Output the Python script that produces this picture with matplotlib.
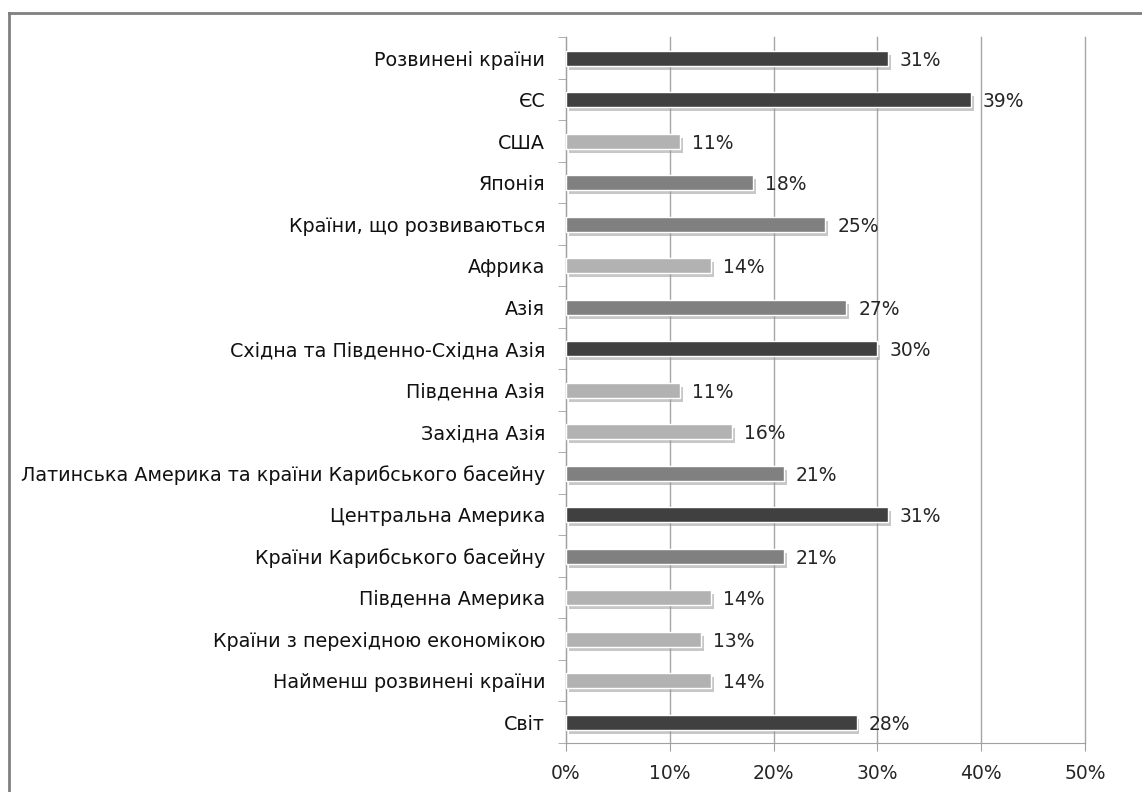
import matplotlib.pyplot as plt
import matplotlib.patheffects as pe
from matplotlib.lines import Line2D
from matplotlib.ticker import PercentFormatter

regions = ["Розвинені країни", "ЄС", "США", "Японія", "Країни, що розвиваються",
           "Африка", "Азія", "Східна та Південно-Східна Азія", "Південна Азія",
           "Західна Азія", "Латинська Америка та країни Карибського басейну",
           "Центральна Америка", "Країни Карибського басейну", "Південна Америка",
           "Країни з перехідною економікою", "Найменш розвинені країни", "Світ"]
shares = [31, 39, 11, 18, 25, 14, 27, 30, 11, 16, 21, 31, 21, 14, 13, 14, 28]


def shade(v):
    # three grey tones, darker for bigger shares
    if v >= 28:
        return "#404040"
    if v >= 18:
        return "#808080"
    return "#b2b2b2"


fig = plt.figure(figsize=(11.42, 7.92), dpi=100)
ax = fig.add_axes([0.4956, 0.0619, 0.4545, 0.891])

ypos = list(range(len(regions)))[::-1]
bars = ax.barh(ypos, shares, height=0.36, color=[shade(v) for v in shares],
               edgecolor="white", linewidth=1, zorder=3)
for b in bars:
    b.set_path_effects([pe.SimplePatchShadow(offset=(2, -3), shadow_rgbFace="#999999", alpha=0.55),
                        pe.Normal()])

for y, v in zip(ypos, shares):
    ax.text(v + 1.15, y - 0.05, f"{v}%", va="center", ha="left", fontsize=13.5,
            color="#262626", zorder=4)

ax.set_xlim(0, 50)
ax.set_ylim(-0.5, len(regions) - 0.5)
ax.set_xticks(range(0, 51, 10))
ax.xaxis.set_major_formatter(PercentFormatter(decimals=0))
ax.set_yticks(ypos)
ax.set_yticklabels(regions, fontsize=13.8, color="#111111")
ax.set_yticks([i - 0.5 for i in range(len(regions) + 1)], minor=True)
ax.tick_params(axis="y", which="major", length=0, pad=15)
ax.tick_params(axis="y", which="minor", length=6, color="#a0a0a0", direction="out")
ax.tick_params(axis="x", length=6, color="#a0a0a0", labelsize=13.5, labelcolor="#262626", pad=9)

ax.grid(axis="x", color="#a6a6a6", linewidth=1, zorder=0)
for gl in ax.get_xgridlines():
    gl.set_clip_on(False)
for s in ["top", "right"]:
    ax.spines[s].set_visible(False)
ax.spines["left"].set_color("#a0a0a0")
ax.spines["bottom"].set_color("#a0a0a0")

# chart-area frame (top and left edge visible)
fig.add_artist(Line2D([0.0075, 0.0075], [0.0, 0.984], transform=fig.transFigure,
                      color="#808080", linewidth=2))
fig.add_artist(Line2D([0.0075, 1.0], [0.984, 0.984], transform=fig.transFigure,
                      color="#808080", linewidth=2))

plt.savefig("out.png", dpi=100)
